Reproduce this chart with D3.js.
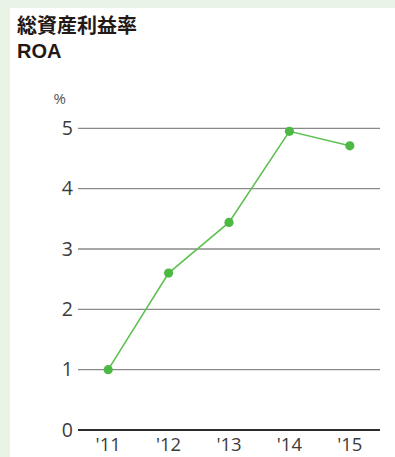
<!DOCTYPE html>
<html>
<head>
<meta charset="utf-8">
<script src="https://cdn.jsdelivr.net/npm/d3@7"></script>
<style>
  html, body { margin: 0; padding: 0; background: #e9f3e6; }
  svg { display: block; }
</style>
</head>
<body>
<svg id="chart" width="395" height="457"></svg>
<script>
// Return on assets by fiscal year (%)
const years = ["'11", "'12", "'13", "'14", "'15"];
const roa = [1.0, 2.6, 3.44, 4.95, 4.71];
const yTicks = [0, 1, 2, 3, 4, 5];

const svg = d3.select("#chart");
const W = 395, H = 457;

// white card
svg.append("rect").attr("x", 10).attr("y", 8).attr("width", W - 10).attr("height", H - 8).attr("fill", "#ffffff");

// titles
svg.append("text").attr("x", 17).attr("y", 33)
  .attr("font-family", "'Noto Sans CJK JP', sans-serif").attr("font-weight", 700)
  .attr("font-size", 20).attr("fill", "#231815").text("総資産利益率");
svg.append("text").attr("x", 17).attr("y", 57.5)
  .attr("font-family", "'Liberation Sans', sans-serif").attr("font-weight", 700)
  .attr("font-size", 20).attr("fill", "#231815").text("ROA");

const plot = { left: 78, right: 380, top: 128.3, bottom: 430 };

const x = d3.scaleBand().domain(years).range([plot.left, plot.right]);
const y = d3.scaleLinear().domain([0, 5]).range([plot.bottom, plot.top]);

// unit label
svg.append("text").attr("x", 53.5).attr("y", 104)
  .attr("font-family", "'Open Sans', sans-serif").attr("font-size", 15)
  .attr("fill", "#555").text("%");

// gridlines
svg.append("g").selectAll("line").data(yTicks.filter(d => d > 0)).join("line")
  .attr("x1", plot.left).attr("x2", plot.right)
  .attr("y1", d => y(d)).attr("y2", d => y(d))
  .attr("stroke", "#8a8a8a").attr("stroke-width", 1.3);

// baseline
svg.append("line").attr("x1", plot.left).attr("x2", plot.right)
  .attr("y1", y(0)).attr("y2", y(0))
  .attr("stroke", "#2b2b2b").attr("stroke-width", 2);

// y axis labels
const yAxis = d3.axisLeft(y).tickValues(yTicks).tickSize(0).tickPadding(5).tickFormat(d3.format("d"));
const gy = svg.append("g").attr("transform", `translate(${plot.left},0)`).call(yAxis);
gy.select(".domain").remove();
gy.selectAll("text").attr("font-family", "'Open Sans', sans-serif").attr("font-size", 19.5).attr("fill", "#3c3c3c");

// x axis labels
const xAxis = d3.axisBottom(x).tickSize(0).tickPadding(8);
const gx = svg.append("g").attr("transform", `translate(0,${plot.bottom})`).call(xAxis);
gx.select(".domain").remove();
gx.selectAll("text").attr("font-family", "'Open Sans', sans-serif").attr("font-size", 18.5).attr("fill", "#3c3c3c");

const cx = d => x(d) + x.bandwidth() / 2;

// line
const line = d3.line().x((d, i) => cx(years[i])).y(d => y(d));
svg.append("path").datum(roa).attr("d", line)
  .attr("fill", "none").attr("stroke", "#5fc152").attr("stroke-width", 1.6);

// points
svg.append("g").selectAll("circle").data(roa).join("circle")
  .attr("cx", (d, i) => cx(years[i])).attr("cy", d => y(d))
  .attr("r", 4.6).attr("fill", "#4db844");
</script>
</body>
</html>
